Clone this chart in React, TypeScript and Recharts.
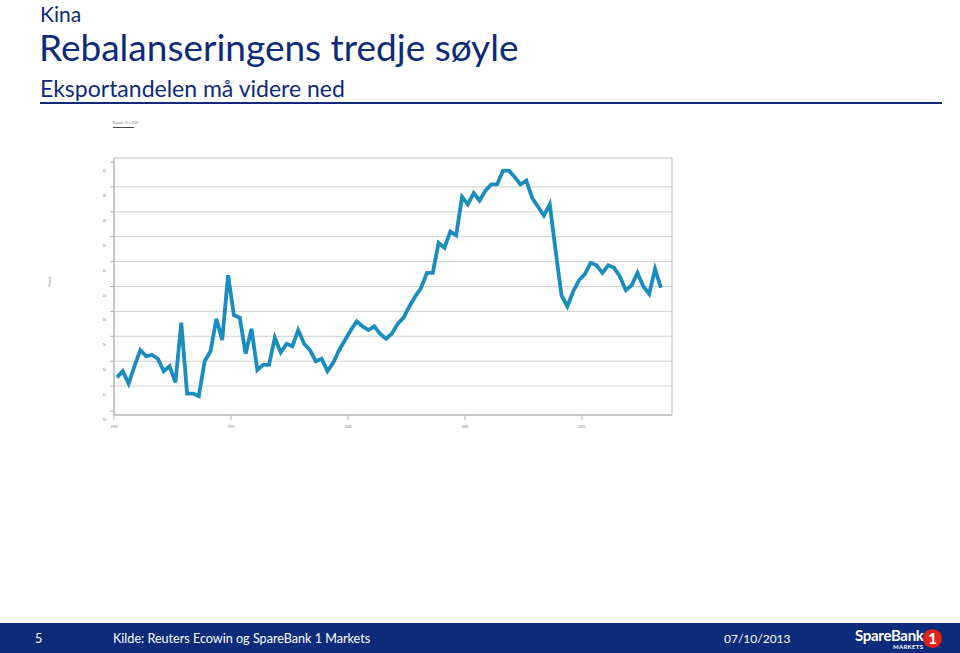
import React from 'react';
import { LineChart, Line, XAxis, YAxis, CartesianGrid, ReferenceArea } from 'recharts';

// quarterly, 1990Q1 - 2013Q2
const startYear = 1990;
const exportShare = [
  12.7, 13.2, 12.2, 13.6, 14.9, 14.4, 14.5, 14.2, 13.2, 13.6,
  12.3, 17.1, 11.4, 11.4, 11.2, 14.0, 14.8, 17.4, 15.7, 20.9,
  17.7, 17.5, 14.6, 16.6, 13.3, 13.7, 13.7, 15.9, 14.7, 15.4,
  15.2, 16.5, 15.4, 14.9, 14.0, 14.2, 13.2, 13.9, 14.9, 15.7,
  16.5, 17.2, 16.8, 16.5, 16.8, 16.2, 15.8, 16.2, 17.0, 17.5,
  18.4, 19.2, 19.9, 21.1, 21.1, 23.5, 23.1, 24.4, 24.1, 27.2,
  26.6, 27.5, 26.9, 27.7, 28.2, 28.2, 29.3, 29.3, 28.8, 28.2,
  28.5, 27.1, 26.4, 25.7, 26.6, 22.9, 19.3, 18.4, 19.6, 20.5,
  21.0, 21.9, 21.7, 21.1, 21.7, 21.5, 20.8, 19.7, 20.1, 21.1,
  20.0, 19.4, 21.4, 19.9,
];
const yTicks = [10, 12, 14, 16, 18, 20, 22, 24, 26, 28, 30];
const gridValues = [12, 14, 16, 18, 20, 22, 24, 26, 28];
const xTicks = [-0.5, 19.5, 39.5, 59.5, 79.5];
const xTickLabels = ['1990', '1995', '2000', '2005', '2010'];

const data = exportShare.map((v, i) => ({
  q: i,
  label: `${startYear + Math.floor(i / 4)}K${(i % 4) + 1}`,
  v,
}));

const navy = '#0c2b7a';

const YTick = (props: any) => {
  const { x, y, payload } = props;
  return (
    <text x={x - 2} y={y + 10} fontSize={3} fill="#777" textAnchor="end">
      {payload.value}
    </text>
  );
};

const XTick = (props: any) => {
  const { x, y, index } = props;
  return (
    <text x={x} y={y + 6} fontSize={3} fill="#777" textAnchor="middle">
      {xTickLabels[index]}
    </text>
  );
};

export default function App() {
  return (
    <div style={{ position: 'absolute', left: 0, top: 0, width: 960, height: 653, background: '#fff', overflow: 'hidden', fontFamily: 'Lato, sans-serif' }}>
      <div style={{ position: 'absolute', left: 40, top: 1, fontSize: 21, color: navy, lineHeight: '26px' }}>Kina</div>
      <div style={{ position: 'absolute', left: 39, top: 25, fontSize: 37, color: navy, lineHeight: '44px' }}>Rebalanseringens tredje søyle</div>
      <div style={{ position: 'absolute', left: 40, top: 74, fontSize: 23, color: navy, lineHeight: '28px' }}>Eksportandelen må videre ned</div>
      <div style={{ position: 'absolute', left: 40, top: 102, width: 902, height: 2, background: navy }} />

      <div style={{ position: 'absolute', left: 113, top: 121, fontSize: 3, color: '#888' }}>Eksport i % av BNP</div>
      <div style={{ position: 'absolute', left: 113, top: 127, width: 21, height: 1, background: '#444' }} />

      <div style={{ position: 'absolute', left: 0, top: 0 }}>
        <LineChart width={700} height={440} data={data} margin={{ top: 158, right: 28, left: 0, bottom: 5 }}>
          <CartesianGrid vertical={false} horizontalValues={gridValues} stroke="#d0d0d0" strokeWidth={1} />
          <ReferenceArea x1={-0.5} x2={94.9} y1={9.68} y2={30.32} fill="none" stroke="#bdbdbd" strokeWidth={1} />
          <XAxis
            dataKey="q"
            type="number"
            domain={[-0.5, 94.9]}
            ticks={xTicks}
            interval={0}
            height={20}
            stroke="#b0b0b0"
            tickSize={5}
            tick={<XTick />}
            allowDataOverflow
          />
          <YAxis
            type="number"
            domain={[9.68, 30.32]}
            ticks={yTicks}
            interval={0}
            width={114}
            stroke="#b0b0b0"
            tickSize={4}
            tick={<YTick />}
            allowDataOverflow
            label={{ value: 'Prosent', angle: -90, position: 'insideLeft', offset: 50, fontSize: 3, fill: '#777' }}
          />
          <Line
            type="linear"
            dataKey="v"
            stroke="#1a8cbe"
            strokeWidth={3.8}
            dot={false}
            isAnimationActive={false}
          />
        </LineChart>
      </div>

      <div style={{ position: 'absolute', left: 0, top: 623, width: 960, height: 30, background: navy, color: '#fff', fontSize: 12.6 }}>
        <div style={{ position: 'absolute', left: 35, top: 8 }}>5</div>
        <div style={{ position: 'absolute', left: 113, top: 8 }}>Kilde: Reuters Ecowin og SpareBank 1 Markets</div>
        <div style={{ position: 'absolute', left: 724, top: 8, fontSize: 12 }}>07/10/2013</div>
        <div style={{ position: 'absolute', left: 855, top: 3, fontSize: 15, fontWeight: 700, letterSpacing: -0.3 }}>SpareBank</div>
        <div style={{ position: 'absolute', left: 893, top: 20, fontSize: 6, fontWeight: 700, letterSpacing: 0.3 }}>MARKETS</div>
        <div style={{ position: 'absolute', left: 923, top: 6, width: 19, height: 19, borderRadius: '50%', background: '#e2231a', color: '#fff', fontSize: 15, fontWeight: 900, textAlign: 'center', lineHeight: '19px' }}>1</div>
      </div>
    </div>
  );
}
